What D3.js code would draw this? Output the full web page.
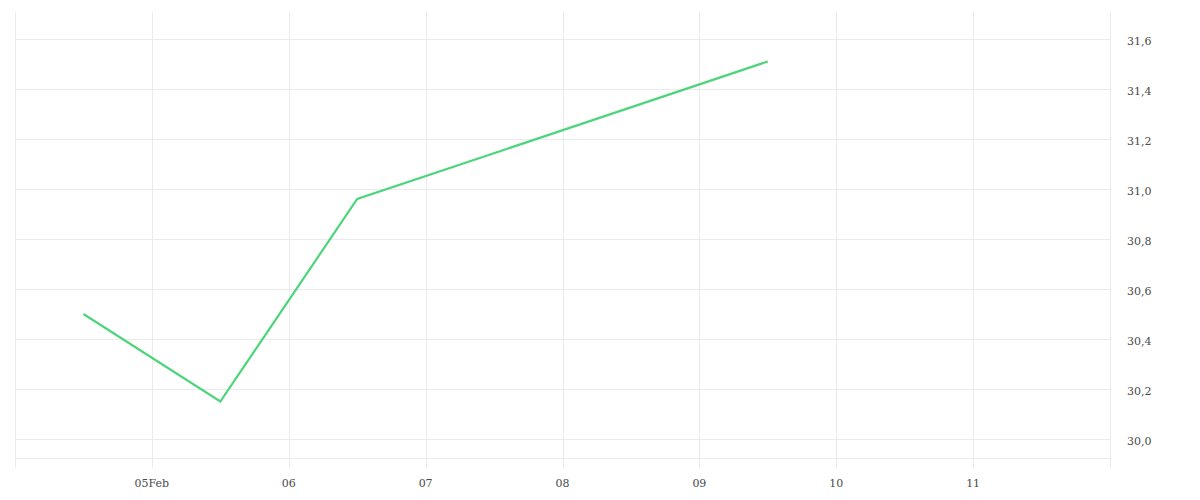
<!DOCTYPE html>
<html><head><meta charset="utf-8">
<script src="https://cdn.jsdelivr.net/npm/d3@7"></script>
<style>
body{margin:0;background:#fff;}
svg text{font-family:"DejaVu Serif",serif;font-size:11px;fill:#4a4a4a;}
</style></head>
<body><svg id="c" width="1200" height="500"></svg>
<script>
const dates = ["2024-02-04T12:00","2024-02-05T12:00","2024-02-06T12:00","2024-02-09T12:00"];
const values = [30.50, 30.15, 30.96, 31.51];
const xTicks = ["2024-02-05","2024-02-06","2024-02-07","2024-02-08","2024-02-09","2024-02-10","2024-02-11"];
const xTickLabels = ["05Feb","06","07","08","09","10","11"];
const yTicks = [30.0,30.2,30.4,30.6,30.8,31.0,31.2,31.4,31.6];

const parse = d3.isoParse;
const svg = d3.select("#c");
const L=15,R=1110,T=12,B=458;
const x = d3.scaleTime().domain([parse("2024-02-04T00:00"),parse("2024-02-12T00:00")]).range([L,R]);
const y = d3.scaleLinear().domain([30+ (439-458)/250, 30+(439-12)/250]).range([B,T]);
const grid="#ebebeb";
const g = svg.append("g");
// vertical grid
g.selectAll("line.v").data([parse("2024-02-04")].concat(xTicks.map(parse)).concat([parse("2024-02-12")]))
 .join("line").attr("x1",d=>Math.round(x(d))+0.5).attr("x2",d=>Math.round(x(d))+0.5)
 .attr("y1",T).attr("y2",468).attr("stroke",grid).attr("stroke-width",1);
// horizontal grid
g.selectAll("line.h").data(yTicks).join("line")
 .attr("x1",L).attr("x2",R).attr("y1",d=>Math.round(y(d))+0.5).attr("y2",d=>Math.round(y(d))+0.5)
 .attr("stroke",grid);
g.append("line").attr("x1",L).attr("x2",R).attr("y1",B+0.5).attr("y2",B+0.5).attr("stroke",grid);
// x labels
g.selectAll("text.x").data(xTicks).join("text")
 .attr("x",d=>x(parse(d))).attr("y",487).attr("text-anchor","middle")
 .text((d,i)=>xTickLabels[i]);
// y labels
const fmt = d=>d3.format(".1f")(d).replace(".",",");
g.selectAll("text.y").data(yTicks).join("text")
 .attr("x",1127).attr("y",d=>y(d)+5.5).text(fmt);
// line
const pts = dates.map((d,i)=>[parse(d),values[i]]);
svg.append("path").datum(pts).attr("fill","none").attr("stroke","#4ed57c").attr("stroke-width",2.2)
 .attr("stroke-linejoin","miter")
 .attr("d",d3.line().x(d=>x(d[0])).y(d=>y(d[1])));
</script></body></html>
